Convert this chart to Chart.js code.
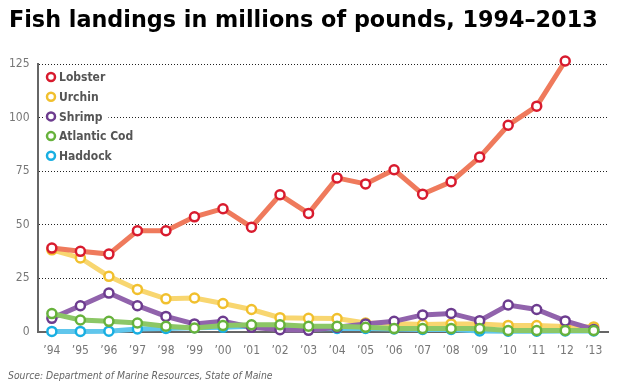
<!DOCTYPE html>
<html>
<head>
<meta charset="utf-8">
<script src="https://cdn.jsdelivr.net/npm/chart.js@4.4.1/dist/chart.umd.min.js"></script>
<style>
  html, body { margin: 0; padding: 0; background: #fff; }
  #wrap { width: 624px; height: 390px; position: relative; }
</style>
</head>
<body>
<div id="wrap"><canvas id="fishChart"></canvas></div>
<script>
const years = ['’94', '’95', '’96', '’97', '’98', '’99', '’00', '’01', '’02', '’03',
               '’04', '’05', '’06', '’07', '’08', '’09', '’10', '’11', '’12', '’13'];
const yTicks = [0, 25, 50, 75, 100, 125];

// millions of pounds
const lobster = [39.0, 37.5, 36.2, 47.1, 47.1, 53.6, 57.4, 48.8, 63.9, 55.2,
                 71.8, 69.0, 75.6, 64.2, 70.0, 81.5, 96.4, 105.3, 126.4, null];
const urchin  = [38.2, 34.4, 25.8, 19.7, 15.3, 15.7, 13.1, 10.3, 6.5, 6.2,
                 6.1, 4.0, 3.8, 3.3, 3.6, 3.5, 2.9, 2.8, 2.4, 2.2];
const shrimp  = [6.2, 12.1, 18.0, 12.1, 7.1, 3.6, 4.8, 2.0, 0.9, 0.6,
                 2.0, 3.6, 4.8, 7.8, 8.5, 5.1, 12.4, 10.3, 5.0, 1.0];
const cod     = [8.4, 5.4, 4.8, 4.0, 2.5, 1.7, 2.9, 3.2, 3.2, 2.5,
                 2.5, 2.0, 1.4, 1.4, 1.4, 1.4, 0.5, 0.5, 0.5, 0.5];
const haddock = [0.1, 0.1, 0.2, 1.2, 1.5, 1.8, 2.0, 2.5, 2.5, 1.2,
                 1.5, 1.5, 1.2, 1.0, 1.0, 0.3, 0.2, 0.2, 0.3, 0.3];

const FONT = '"DejaVu Sans", Verdana, sans-serif';
const NARROW = '"DejaVu Sans Condensed", Tahoma, "Liberation Sans", sans-serif';

function series(label, data, line, marker, order) {
    return {
        label: label,
        data: data,
        borderColor: line,
        backgroundColor: line,
        borderWidth: 5,
        pointRadius: 4.5,
        pointBorderWidth: 2.5,
        pointBorderColor: marker,
        pointBackgroundColor: '#fff',
        markerColor: marker,
        tension: 0,
        clip: false,
        order: order
    };
}

// title, source line and the in-plot legend
const decorations = {
    id: 'decorations',
    beforeDraw(chart) {
        const ctx = chart.ctx;
        ctx.save();
        ctx.fillStyle = '#fff';
        ctx.fillRect(0, 0, chart.width, chart.height);
        ctx.restore();
    },
    afterDraw(chart) {
        const ctx = chart.ctx;
        ctx.save();
        ctx.fillStyle = '#000';
        ctx.textBaseline = 'alphabetic';
        ctx.font = 'bold 22.3px ' + FONT;
        ctx.fillText('Fish landings in millions of pounds, 1994–2013', 9, 27);

        ctx.fillStyle = '#666';
        ctx.font = 'italic 10.3px ' + NARROW;
        ctx.fillText('Source: Department of Marine Resources, State of Maine', 8, 379);

        // legend in legend order (not drawing order)
        const items = chart.data.datasets.slice().sort((a, b) => a.legendIndex - b.legendIndex);
        ctx.font = 'bold 12px ' + NARROW;
        ctx.textBaseline = 'middle';
        items.forEach((ds, i) => {
            const y = 77 + i * 19.7;
            const w = ctx.measureText(ds.label).width;
            ctx.fillStyle = '#fff';
            ctx.fillRect(45, y - 8, w + 20, 16);
            ctx.beginPath();
            ctx.arc(51, y, 4, 0, Math.PI * 2);
            ctx.fillStyle = '#fff';
            ctx.fill();
            ctx.lineWidth = 2.5;
            ctx.strokeStyle = ds.markerColor;
            ctx.stroke();
            ctx.fillStyle = '#555';
            ctx.fillText(ds.label, 59, y + 1);
        });
        ctx.restore();
    }
};

const datasets = [
    series('Lobster', lobster, '#EF7A5C', '#D81B2E', 0),
    series('Urchin', urchin, '#F8D670', '#F1C02E', 4),
    series('Shrimp', shrimp, '#9163AC', '#6D3C8F', 2),
    series('Atlantic Cod', cod, '#8CC766', '#67B23C', 1),
    series('Haddock', haddock, '#60C6EC', '#19AFE2', 3)
];
datasets.forEach((d, i) => { d.legendIndex = i; });

const ctx = document.getElementById('fishChart').getContext('2d');
const fishChart = new Chart(ctx, {
    type: 'line',
    data: { labels: years, datasets: datasets },
    options: {
        responsive: true,
        maintainAspectRatio: false,
        animation: false,
        devicePixelRatio: 1,
        layout: { padding: { top: 64, left: 1, right: 16, bottom: 28 } },
        plugins: {
            legend: { display: false },
            title: { display: false },
            tooltip: { enabled: false }
        },
        scales: {
            x: {
                offset: true,
                grid: { display: false },
                border: { color: '#666', width: 2 },
                ticks: {
                    color: '#777',
                    font: { family: NARROW, size: 12 },
                    padding: 4,
                    maxRotation: 0,
                    autoSkip: false
                }
            },
            y: {
                min: yTicks[0],
                max: yTicks[yTicks.length - 1],
                afterBuildTicks: axis => { axis.ticks = yTicks.map(v => ({ value: v })); },
                grid: {
                    drawTicks: false,
                    lineWidth: 1,
                    color: c => (c.tick && c.tick.value === 0) ? 'rgba(0,0,0,0)' : '#222'
                },
                border: { color: '#666', width: 2, dash: [1, 2] },
                ticks: {
                    color: '#777',
                    font: { family: NARROW, size: 12 },
                    padding: 8
                }
            }
        }
    },
    plugins: [decorations]
});
</script>
</body>
</html>
